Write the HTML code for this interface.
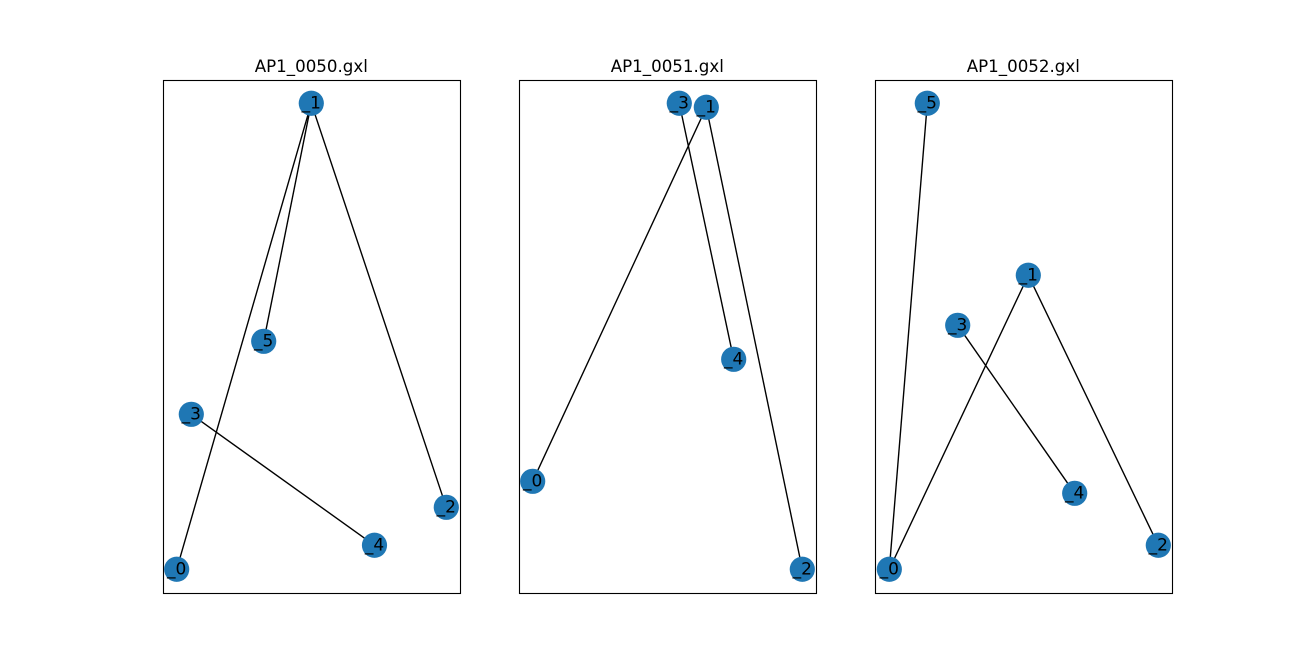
<!DOCTYPE html>
<html>
<head>
<meta charset="utf-8">
<title>AP1 graphs</title>
<style>
html,body{margin:0;padding:0;background:#fff;}
svg{display:block;}
text{font-family:"DejaVu Sans",sans-serif;font-size:16.67px;fill:#000;}
text.node-text{font-size:17px;}
</style>
</head>
<body>
<svg id="figure" xmlns="http://www.w3.org/2000/svg" width="1302" height="666" viewBox="0 0 1302 666"></svg>
<script>
const titles = ["AP1_0050.gxl", "AP1_0051.gxl", "AP1_0052.gxl"];
const nodeLabels = [
  ["_0", "_1", "_2", "_3", "_4", "_5"],
  ["_0", "_1", "_2", "_3", "_4"],
  ["_0", "_1", "_2", "_3", "_4", "_5"]
];
const nodeX = [
  [0.0444, 0.4976, 0.9522, 0.0936, 0.7104, 0.3374],
  [0.0444, 0.6290, 0.9522, 0.5380, 0.7212],
  [0.0465, 0.5145, 0.9522, 0.2768, 0.6707, 0.1744]
];
const nodeY = [
  [0.0472, 0.9556, 0.1680, 0.3493, 0.0940, 0.4916],
  [0.2187, 0.9478, 0.0472, 0.9556, 0.4565],
  [0.0472, 0.6203, 0.0940, 0.5228, 0.1953, 0.9556]
];
const edgeList = [
  [[0, 1], [1, 5], [1, 2], [3, 4]],
  [[0, 1], [1, 2], [3, 4]],
  [[0, 5], [0, 1], [1, 2], [3, 4]]
];

const NS = "http://www.w3.org/2000/svg";
const svg = document.getElementById("figure");
const axesLeft = [163.5, 519.5, 875.5];
const axesTop = 80.5;
const axesWidth = 297;
const axesHeight = 513;
function xScale(panel, v) { return axesLeft[panel] + v * axesWidth; }
function yScale(v) { return axesTop + axesHeight - v * axesHeight; }
function make(tag, attrs, parent) {
  const el = document.createElementNS(NS, tag);
  for (const k in attrs) el.setAttribute(k, attrs[k]);
  parent.appendChild(el);
  return el;
}

titles.forEach(function (title, p) {
  const group = make("g", {}, svg);
  
  

  const frame = make("rect", { x: axesLeft[p], y: axesTop, width: axesWidth, height: axesHeight, fill: "#fff", stroke: "#000", "stroke-width": 1.11 }, group);
  
  

  const heading = make("text", { x: axesLeft[p] + axesWidth / 2 - 0.7, y: 72, "text-anchor": "middle" }, group);
  heading.textContent = title;
  
  

  edgeList[p].forEach(function (edge) {
    const line = make("line", {
      x1: xScale(p, nodeX[p][edge[0]]), y1: yScale(nodeY[p][edge[0]]),
      x2: xScale(p, nodeX[p][edge[1]]), y2: yScale(nodeY[p][edge[1]]),
      stroke: "#000", "stroke-width": 1.39
    }, group);
    
    
  });

  nodeLabels[p].forEach(function (label, i) {
    const cx = xScale(p, nodeX[p][i]);
    const cy = yScale(nodeY[p][i]);
    const circle = make("circle", { cx: cx, cy: cy, r: 12.6, fill: "#1f77b4" }, group);
    
    
    const text = make("text", { x: cx, y: cy + 5.2, "text-anchor": "middle", "class": "node-text" }, group);
    text.textContent = label;
    
    
  });
});
</script>
</body>
</html>
